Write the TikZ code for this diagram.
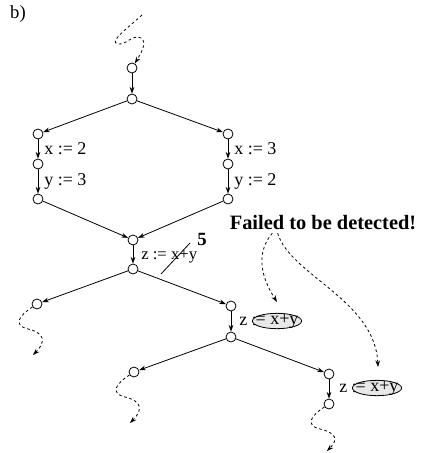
\documentclass[tikz,border=0pt]{standalone}
\usepackage{fontspec}
\setmainfont{Liberation Serif}
\usetikzlibrary{arrows.meta, shapes.geometric}
\tikzset{
  vtx/.style   ={circle, draw, line width=0.6pt, inner sep=0pt, minimum size=7.5pt},
  flow/.style  ={-{Stealth[length=5pt, width=3.5pt]}, line width=0.6pt},
  squig/.style ={-{Stealth[length=5pt, width=3.5pt]}, dash pattern=on 2pt off 2pt, line width=0.6pt},
  stmt/.style  ={anchor=west, inner sep=0pt, font=\fontsize{13.5}{15}\selectfont},
  hilite/.style={ellipse, draw, fill=gray!18, line width=0.6pt, inner xsep=-3pt, inner ysep=-1.2pt,
                 font=\fontsize{13.5}{15}\selectfont},
  warn/.style  ={inner sep=0pt, font=\fontsize{15.3}{18}\selectfont\bfseries},
}
\begin{document}
\begin{tikzpicture}[x=0.75pt, y=-0.75pt]
  \useasboundingbox (0,0) rectangle (423,453);
  \node[inner sep=0pt, font=\fontsize{14}{16}\selectfont] (tag) at (18,14) {b)};
  % entry and first branch
  \node[vtx] (n1) at (132,68) {};
  \node[vtx] (n2) at (132,99) {};
  \node[vtx] (l1) at (38,134) {};
  \node[vtx] (l2) at (38,164) {};
  \node[vtx] (l3) at (38,199) {};
  \node[vtx] (r1) at (228,134) {};
  \node[vtx] (r2) at (228,164) {};
  \node[vtx] (r3) at (228,199) {};
  \node[vtx] (m1) at (133,240) {};
  \node[vtx] (m2) at (133,269) {};
  % second and third branch
  \node[vtx] (bl) at (37,304) {};
  \node[vtx] (br) at (231,306) {};
  \node[vtx] (br2) at (231,337) {};
  \node[vtx] (cl) at (134,372) {};
  \node[vtx] (cr) at (329,374) {};
  \node[vtx] (cr2) at (329,404) {};
  % statements
  \node[stmt] (sx2) at (44,149) {x := 2};
  \node[stmt] (sy3) at (44,181) {y := 3};
  \node[stmt] (sx3) at (234,149) {x := 3};
  \node[stmt] (sy2) at (234,181) {y := 2};
  \node[stmt, font=\fontsize{12.5}{15}\selectfont] (sz) at (141,257) {z := x+y};
  \draw[line width=0.6pt] (161,274) -- (190,243);
  \node[inner sep=0pt, font=\fontsize{14}{16}\selectfont\bfseries] (five) at (202,239) {5};
  \node[stmt] (sz1) at (239,321) {z :};
  \node[hilite] (e1) at (277,321) {= x+y};
  \node[stmt] (sz2) at (339,388) {z :};
  \node[hilite] (e2) at (377,388) {= x+y};
  \node[warn] (fail) at (323,223) {Failed to be detected!};
  % edges
  \draw[flow] (n1) -- (n2);
  \draw[flow] (n2) -- (l1); \draw[flow] (n2) -- (r1);
  \draw[flow] (l1) -- (l2); \draw[flow] (l2) -- (l3);
  \draw[flow] (r1) -- (r2); \draw[flow] (r2) -- (r3);
  \draw[flow] (l3) -- (m1); \draw[flow] (r3) -- (m1);
  \draw[flow] (m1) -- (m2);
  \draw[flow] (m2) -- (bl); \draw[flow] (m2) -- (br);
  \draw[flow] (br) -- (br2);
  \draw[flow] (br2) -- (cl); \draw[flow] (br2) -- (cr);
  \draw[flow] (cr) -- (cr2);
  % squiggles
  \coordinate (s0) at (142,15);
  \coordinate (s1) at (33,355);
  \coordinate (s2) at (130,423);
  \coordinate (s3) at (327,451);
  \draw[squig] (s0) .. controls (128,28) and (108,42) .. (118,44)
                    .. controls (126,45) and (133,34) .. (141,38)
                    .. controls (148,42) and (140,55) .. (n1);
  \draw[squig] (bl) .. controls (20,315) and (12,325) .. (28,329)
                    .. controls (45,333) and (46,342) .. (s1);
  \draw[squig] (cl) .. controls (117,383) and (109,393) .. (125,397)
                    .. controls (142,401) and (143,410) .. (s2);
  \draw[squig] (cr2) .. controls (312,415) and (304,425) .. (320,429)
                     .. controls (337,433) and (338,440) .. (s3);
  % callouts
  \coordinate (t1) at (277,302);
  \coordinate (t2) at (378,367);
  \draw[squig] ([xshift=-38pt, yshift=-2pt]fail.south) .. controls (258,250) and (258,272) .. (t1);
  \draw[squig] ([xshift=-34pt, yshift=-2pt]fail.south) .. controls (290,275) and (375,300) .. (t2);
\end{tikzpicture}
\end{document}
